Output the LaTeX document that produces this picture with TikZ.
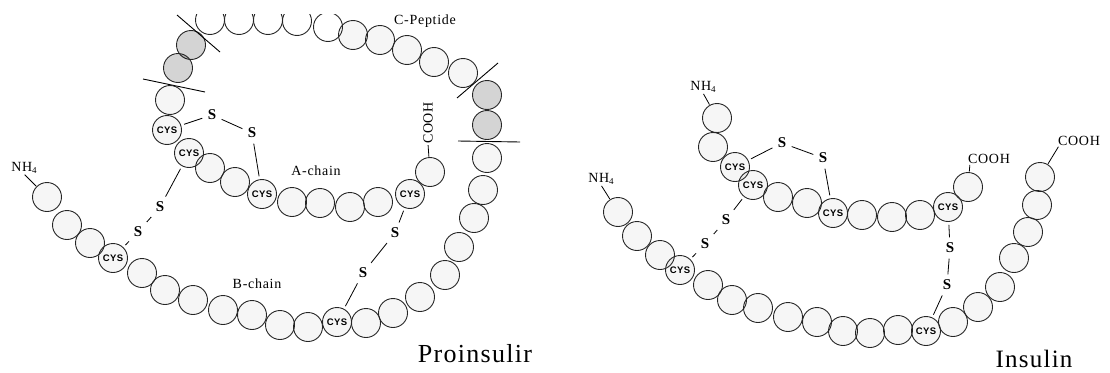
\documentclass[tikz,border=0pt]{standalone}
\usepackage{fontspec}
\setmainfont{Liberation Serif}
\newfontfamily\lblfont{Liberation Serif}[LetterSpace=5]
\newfontfamily\cysfont{Liberation Sans}[LetterSpace=4]
\begin{document}
\begin{tikzpicture}[x=1pt,y=-1pt,
  bead/.style={circle, draw=black!85, line width=0.9pt, minimum size=29pt,
    inner sep=0pt, fill=black, fill opacity=0.035, text opacity=1},
  shaded/.style={bead, fill opacity=0.17},
  cys/.style={bead, font=\cysfont\bfseries\fontsize{9.5}{9.5}\selectfont},
  sulf/.style={font=\bfseries\fontsize{15}{15}\selectfont, inner sep=2.5pt},
  lbl/.style={font=\lblfont\fontsize{14}{14}\selectfont, inner sep=0pt},
  title/.style={font=\lblfont\fontsize{25}{25}\selectfont, inner sep=0pt, anchor=base},
  bond/.style={line width=0.8pt, shorten >=3pt, shorten <=3pt},
  lead/.style={line width=0.8pt, shorten >=0.5pt, shorten <=1pt},
  cutline/.style={line width=0.9pt}]
\useasboundingbox (0,0) rectangle (1110,372);

% ---------------- Proinsulin ----------------
% B-chain
\foreach \n/\x/\y in {1/47/197,2/67/225,3/90/243,5/142/273,6/165/290,7/193/300,
  8/223/310,9/252/315,10/280/325,11/308/327,13/366/323,14/393/313,15/420/297,
  16/445/275,17/459/247,18/474/218,19/483/190,20/487/158}
  \node[bead] (pb\n) at (\x,\y) {};
\node[cys] (pbc1) at (113,258) {CYS};
\node[cys] (pbc2) at (337,322) {CYS};

% C-peptide with its cleavage sites
\node[shaded] (pcr1) at (487,125) {};
\node[shaded] (pcr2) at (487,95) {};
\foreach \n/\x/\y in {1/463/73,2/434/62,3/407/50,4/380/40,5/353/35}
  \node[bead] (pcp\n) at (\x,\y) {};
\begin{scope}
  \clip (140,14) rectangle (345,70);
  \foreach \n/\x/\y in {6/328/27,7/297/21,8/268/20,9/239/20,10/210/20}
    \node[bead, fill opacity=0] (pcp\n) at (\x,\y) {};
\end{scope}
\node[shaded] (pcl1) at (191,45) {};
\node[shaded] (pcl2) at (178,68) {};
\draw[cutline] (458,141) -- (520,142);
\draw[cutline] (457,98) -- (498,63);
\draw[cutline] (177,15) -- (220,52);
\draw[cutline] (143,79) -- (205,92);

% A-chain
\foreach \n/\x/\y in {1/170/100,4/210/168,5/235/182,7/292/202,8/320/203,
  9/350/207,10/378/202,12/430/172}
  \node[bead] (pa\n) at (\x,\y) {};
\node[cys] (pac1) at (167,130) {CYS};
\node[cys] (pac2) at (189,153) {CYS};
\node[cys] (pac3) at (262,194) {CYS};
\node[cys] (pac4) at (410,194) {CYS};

% disulfide bridges
\node[sulf] (ps1) at (212,115) {S};
\node[sulf] (ps2) at (252,133) {S};
\node[sulf] (ps3) at (160,207) {S};
\node[sulf] (ps4) at (138,232) {S};
\node[sulf] (ps5) at (395,233) {S};
\node[sulf] (ps6) at (363,273) {S};
\foreach \a/\b in {pac1/ps1,ps1/ps2,ps2/pac3,pac2/ps3,ps3/ps4,ps4/pbc1,
  pac4/ps5,ps5/ps6,ps6/pbc2}
  \draw[bond] (\a) -- (\b);

% labels
\node[lbl] (pnh) at (24,168) {NH\raisebox{-2.5pt}{\fontsize{9}{9}\selectfont 4}};
\draw[lead] (pnh.south) -- (pb1);
\node[lbl, rotate=90] (pcooh) at (428,123) {COOH};
\draw[lead] (pcooh.west) -- (pa12);
\node[lbl] (lcp) at (425,21) {C-Peptide};
\node[lbl] (lac) at (316,171) {A-chain};
\node[lbl] (lbc) at (257,284) {B-chain};
\node[title, font=\lblfont\fontsize{26}{26}\selectfont] (tpro) at (475,362) {Proinsulir};

% ---------------- Insulin ----------------
% A-chain
\foreach \n/\x/\y in {1/717/118,2/713/147,5/778/197,6/807/203,8/862/215,
  9/892/217,10/920/215,12/968/187}
  \node[bead] (ia\n) at (\x,\y) {};
\node[cys] (iac1) at (735,167) {CYS};
\node[cys] (iac2) at (753,185) {CYS};
\node[cys] (iac3) at (833,213) {CYS};
\node[cys] (iac4) at (948,207) {CYS};

% B-chain
\foreach \n/\x/\y in {1/618/212,2/637/236,3/660/255,5/708/285,6/732/300,
  7/758/308,8/788/317,9/817/322,10/843/331,11/870/333,12/898/330,14/953/322,
  15/978/307,16/1000/287,17/1014/258,18/1028/232,19/1037/205,20/1040/177}
  \node[bead] (ib\n) at (\x,\y) {};
\node[cys] (ibc1) at (680,270) {CYS};
\node[cys] (ibc2) at (926,331) {CYS};

% disulfide bridges
\node[sulf] (is1) at (782,143) {S};
\node[sulf] (is2) at (823,158) {S};
\node[sulf] (is3) at (726,220) {S};
\node[sulf] (is4) at (705,244) {S};
\node[sulf] (is5) at (950,248) {S};
\node[sulf] (is6) at (947,285) {S};
\foreach \a/\b in {iac1/is1,is1/is2,is2/iac3,iac2/is3,is3/is4,is4/ibc1,
  iac4/is5,is5/is6,is6/ibc2}
  \draw[bond] (\a) -- (\b);

% labels
\node[lbl] (inha) at (703,87) {NH\raisebox{-2.5pt}{\fontsize{9}{9}\selectfont 4}};
\draw[lead] (inha.south) -- (ia1);
\node[lbl] (inhb) at (601,179) {NH\raisebox{-2.5pt}{\fontsize{9}{9}\selectfont 4}};
\draw[lead] (inhb.south) -- (ib1);
\node[lbl] (icooha) at (989,159) {COOH};
\draw[lead] ([xshift=2pt]icooha.south west) -- (ia12);
\node[lbl] (icoohb) at (1079,141) {COOH};
\draw[lead] ([xshift=1pt]icoohb.south west) -- (ib20);
\node[title] (tins) at (1034,367) {Insulin};
\end{tikzpicture}
\end{document}
